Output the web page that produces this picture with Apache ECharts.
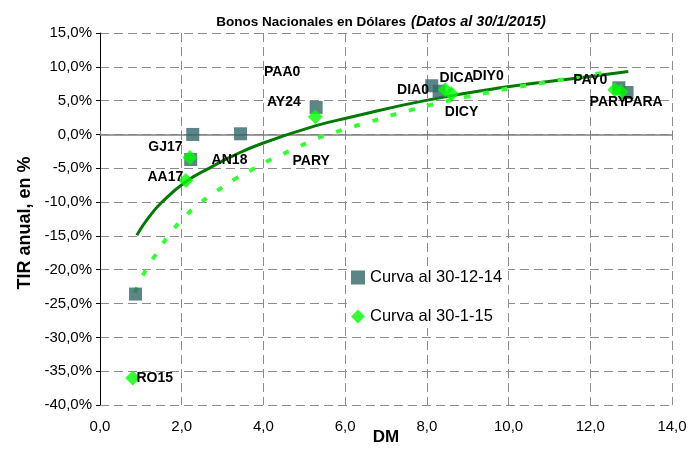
<!DOCTYPE html>
<html>
<head>
<meta charset="utf-8">
<title>Bonos Nacionales en Dólares</title>
<script src="https://cdn.jsdelivr.net/npm/echarts@6/dist/echarts.min.js"></script>
<style>
  html, body { margin: 0; padding: 0; background: #fff; }
  #chart { width: 700px; height: 449px; }
</style>
</head>
<body>
<div id="chart"></div>
<script>
// Curva al 30-12-14 (cuadrados)
var dicX = [0.87, 2.27, 2.22, 3.44, 5.29, 8.12, 8.3, 12.7, 12.9];
var dicY = [-23.6, 0.0, -3.7, 0.1, 4.0, 7.2, 6.4, 6.9, 6.2];
// Curva al 30-1-15 (rombos)
var eneX = [0.8, 2.1, 2.2, 5.27, 8.45, 8.6, 12.6, 12.75];
var eneY = [-36.0, -6.8, -3.4, 2.6, 6.6, 6.0, 6.6, 6.3];
// tendencias
var trendDicX = [0.9, 1.2, 1.5, 2.1, 2.7, 3.24, 3.98, 5.29, 6.1, 7.95, 9.93, 11.9, 12.93];
var trendDicY = [-14.9, -12.2, -10.1, -7.0, -4.9, -3.2, -1.3, 1.3, 2.5, 5.0, 7.0, 8.5, 9.3];
var trendEneX = [0.85, 1.07, 1.37, 1.7, 2.07, 2.44, 2.85, 3.3, 3.78, 4.22, 4.7, 5.2, 5.6, 6.05, 6.63, 7.12, 7.6, 8.05, 8.54, 9.0, 9.5, 10.0, 10.5, 10.9, 11.4, 11.9, 12.4];
var trendEneY = [-23.4, -20.6, -17.7, -14.8, -12.2, -10.2, -8.4, -6.6, -5.0, -3.6, -2.3, -0.9, 0.0, 0.9, 1.9, 2.8, 3.6, 4.3, 5.0, 5.6, 6.2, 6.8, 7.3, 7.7, 8.2, 8.7, 9.2];
// etiquetas
var labelNames = ['PAA0', 'AY24', 'GJ17', 'AA17', 'AN18', 'PARY', 'RO15', 'DIA0', 'DICA', 'DIY0', 'DICY', 'PAY0', 'PARY', 'PARA'];
var labelX = [4.46, 4.5, 1.6, 1.6, 3.17, 5.17, 1.34, 7.66, 8.73, 9.5, 8.85, 12.0, 12.44, 13.3];
var labelY = [9.2, 4.8, -1.9, -6.3, -3.8, -3.9, -36.0, 6.6, 8.3, 8.6, 3.3, 8.1, 4.8, 4.8];

function zip(xs, ys) {
  return xs.map(function (x, i) { return [x, ys[i]]; });
}

var chart = echarts.init(document.getElementById('chart'));
var font = 'Liberation Sans, Arial, sans-serif';
var dash = { color: '#8c8c8c', type: [9, 5], width: 1 };

var option = {
  animation: false,
  textStyle: { fontFamily: font },
  title: {
    left: 376,
    top: 8,
    textAlign: 'center',
    text: '{b|Bonos Nacionales en Dólares} {i|(Datos al 30/1/2015)}',
    textStyle: {
      rich: {
        b: { fontSize: 13.5, fontWeight: 'bold', color: '#000', fontFamily: font },
        i: { fontSize: 14.5, fontStyle: 'italic', color: '#000', fontFamily: font }
      }
    }
  },
  legend: {
    orient: 'vertical',
    left: 347,
    top: 266,
    itemGap: 22,
    itemWidth: 14,
    itemHeight: 14,
    backgroundColor: '#fff',
    padding: [3, 6, 3, 4],
    textStyle: { fontSize: 16.5, color: '#000', fontFamily: font },
    data: ['Curva al 30-12-14', 'Curva al 30-1-15']
  },
  grid: { left: 100, right: 28, top: 33, bottom: 44, outerBoundsMode: 'none' },
  xAxis: [{
    type: 'value',
    min: 0, max: 14, interval: 2,
    name: 'DM',
    nameLocation: 'middle',
    nameGap: 24,
    nameMoveOverlap: false,
    nameTextStyle: { fontSize: 17, fontWeight: 'bold', color: '#000' },
    axisLine: { show: false, onZero: false },
    axisTick: { show: false },
    axisLabel: {
      margin: 14, fontSize: 15, color: '#000',
      formatter: function (v) { return v.toFixed(1).replace('.', ','); }
    },
    splitLine: { show: true, lineStyle: dash }
  }, {
    type: 'value',
    min: 0, max: 14, interval: 2,
    axisLine: { show: true, onZero: true, lineStyle: { color: '#808080', width: 1.5 } },
    axisTick: { show: true, inside: false, length: 4, lineStyle: { color: '#808080' } },
    axisLabel: { show: false },
    splitLine: { show: false }
  }],
  yAxis: {
    type: 'value',
    min: -40, max: 15, interval: 5,
    name: 'TIR anual, en %',
    nameLocation: 'middle',
    nameGap: 66,
    nameMoveOverlap: false,
    nameTextStyle: { fontSize: 18, fontWeight: 'bold', color: '#000', padding: [0, 0, 0, -8] },
    axisLine: { show: true, lineStyle: { color: '#000', width: 1 } },
    axisTick: { show: true, length: 4, lineStyle: { color: '#000' } },
    axisLabel: {
      margin: 8, fontSize: 15, color: '#000',
      formatter: function (v) { return v.toFixed(1).replace('.', ',') + '%'; }
    },
    splitLine: { show: true, lineStyle: dash }
  },
  series: [{
    name: 'tendencia 30-12-14',
    type: 'line',
    smooth: true,
    symbol: 'none',
    silent: true,
    data: zip(trendDicX, trendDicY),
    lineStyle: { color: '#007a00', width: 3 },
    z: 3
  }, {
    name: 'tendencia 30-1-15',
    type: 'line',
    smooth: true,
    symbol: 'none',
    silent: true,
    data: zip(trendEneX, trendEneY),
    lineStyle: { color: '#33ff33', width: 4, type: [6, 13] },
    z: 3
  }, {
    name: 'Curva al 30-12-14',
    type: 'scatter',
    symbol: 'rect',
    symbolSize: 13,
    itemStyle: { color: '#336666' },
    data: zip(dicX, dicY),
    z: 4
  }, {
    name: 'Curva al 30-1-15',
    type: 'scatter',
    symbol: 'diamond',
    symbolSize: 15,
    itemStyle: { color: '#00ff00' },
    data: zip(eneX, eneY),
    z: 5
  }, {
    name: 'etiquetas',
    type: 'scatter',
    symbolSize: 1,
    itemStyle: { opacity: 0 },
    silent: true,
    data: labelNames.map(function (n, i) { return { name: n, value: [labelX[i], labelY[i]] }; }),
    label: {
      show: true,
      position: 'inside',
      formatter: '{b}',
      fontSize: 14,
      fontWeight: 'bold',
      color: '#000',
      opacity: 1,
      fontFamily: font
    },
    z: 6
  }]
};

chart.setOption(option);
</script>
</body>
</html>
